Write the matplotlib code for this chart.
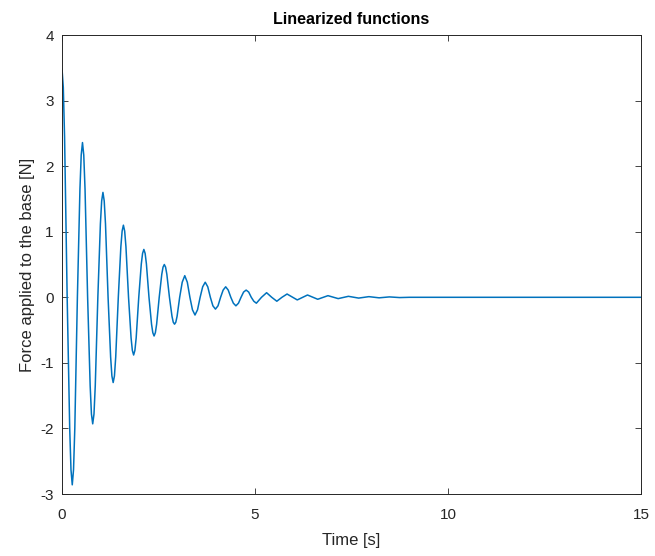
import matplotlib
matplotlib.use("Agg")
import matplotlib.pyplot as plt

# samples of the response (crests, flanks, zero crossings)
time = [0.000, 0.066, 0.133, 0.199, 0.265, 0.331, 0.398, 0.464,
        0.530, 0.596, 0.663, 0.729, 0.795, 0.861, 0.928, 0.994,
        1.060, 1.126, 1.193, 1.259, 1.325, 1.391, 1.458, 1.524,
        1.590, 1.656, 1.723, 1.789, 1.855, 1.921, 1.988, 2.054,
        2.120, 2.186, 2.253, 2.319, 2.385, 2.451, 2.518, 2.584,
        2.650, 2.716, 2.783, 2.849, 2.915, 2.981, 3.048, 3.114,
        3.180, 3.246, 3.313, 3.379, 3.445, 3.511, 3.578, 3.644,
        3.710, 3.776, 3.843, 3.909, 3.975, 4.041, 4.108, 4.174,
        4.240, 4.306, 4.373, 4.439, 4.505, 4.571, 4.638, 4.704,
        4.770, 4.836, 4.903, 4.969, 5.035, 5.168, 5.300, 5.433,
        5.565, 5.698, 5.830, 6.095, 6.360, 6.625, 6.890, 7.155,
        7.420, 7.685, 7.950, 8.215, 8.480, 8.745, 9.000, 15.000]
force = [3.48, 2.44, 0.00, -2.00, -2.86, -2.00, 0.00, 1.65,
         2.36, 1.65, 0.00, -1.35, -1.93, -1.35, 0.00, 1.12,
         1.60, 1.12, 0.00, -0.91, -1.30, -0.91, 0.00, 0.77,
         1.10, 0.77, 0.00, -0.62, -0.88, -0.62, 0.00, 0.51,
         0.73, 0.51, 0.00, -0.41, -0.59, -0.41, 0.00, 0.35,
         0.50, 0.35, 0.00, -0.29, -0.41, -0.29, 0.00, 0.23,
         0.33, 0.23, 0.00, -0.19, -0.27, -0.19, 0.00, 0.16,
         0.23, 0.16, 0.00, -0.13, -0.18, -0.13, 0.00, 0.11,
         0.16, 0.11, 0.00, -0.09, -0.13, -0.09, 0.00, 0.08,
         0.11, 0.08, 0.00, -0.06, -0.09, 0.00, 0.07, 0.00,
         -0.06, 0.00, 0.05, -0.04, 0.035, -0.03, 0.025, -0.02,
         0.015, -0.012, 0.01, -0.008, 0.006, -0.004, 0.0, 0.0]

# extra samples just beside the large crests
crest_time = [0.033, 0.232, 0.298, 0.497, 0.563, 0.762, 0.828, 1.027,
              1.093, 1.292, 1.358, 1.557, 1.623, 1.822, 1.888, 2.087,
              2.153, 2.352, 2.418, 2.617, 2.683, 2.882, 2.948]
crest_force = [3.20, -2.63, -2.63, 2.17, 2.17, -1.78, -1.78, 1.47,
               1.47, -1.20, -1.20, 1.01, 1.01, -0.81, -0.81, 0.67,
               0.67, -0.54, -0.54, 0.46, 0.46, -0.38, -0.38]

pts = sorted(zip(time + crest_time, force + crest_force))
t_all = [p[0] for p in pts]
f_all = [p[1] for p in pts]

plt.rcParams["font.family"] = ["Liberation Sans", "DejaVu Sans"]
plt.rcParams["axes.unicode_minus"] = False
dark = "#262626"

fig = plt.figure(figsize=(6.55, 5.56), dpi=100)
ax = fig.add_axes([0.0947, 0.1115, 0.8839, 0.8255])

ax.plot(t_all, f_all, color="#0072BD", linewidth=1.1)

ax.set_xlim(0, 15)
ax.set_ylim(-3, 4)
ax.set_xticks([0, 5, 10, 15])
ax.set_yticks(range(-3, 5))
ax.tick_params(direction="in", top=True, right=True, length=4,
               width=0.6, colors=dark, labelsize=11)
ax.tick_params(axis="x", pad=10)
ax.tick_params(axis="y", pad=6)
for s in ax.spines.values():
    s.set_color(dark)
    s.set_linewidth(0.7)

ax.set_title("Linearized functions", fontsize=11.5, fontweight="bold",
             color="black", pad=8)
ax.set_xlabel("Time [s]", fontsize=12, color=dark, labelpad=8)
ax.set_ylabel("Force applied to the base [N]", fontsize=12, color=dark)

fig.savefig("out.png", dpi=100)
